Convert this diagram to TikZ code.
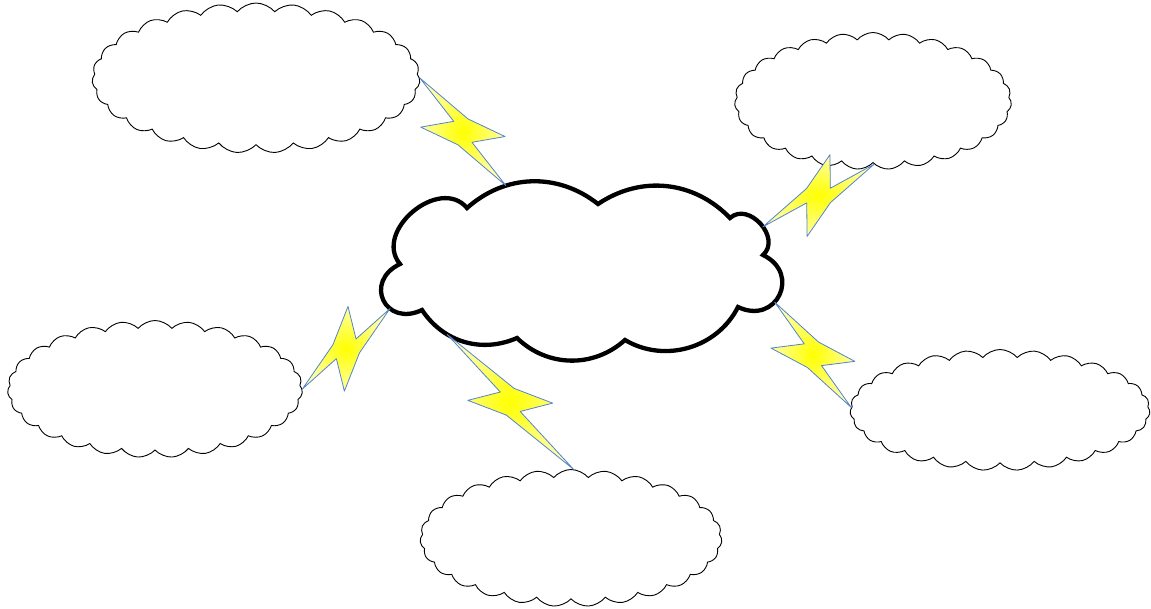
\documentclass[tikz,border=0pt]{standalone}
\usetikzlibrary{shapes.symbols,calc}

\definecolor{boltblue}{RGB}{84,130,206}

\tikzset{
  hubline/.style={draw, fill=white, line width=4.3pt},
  smallcloud/.style={cloud, draw, fill=white, line width=0.9pt, cloud puffs=27,
    cloud puff arc=100, cloud ignores aspect, inner sep=0pt},
  bolt/.style={draw=boltblue, line width=0.8pt, line join=round,
    inner color=yellow, outer color=yellow!35}
}

% lightning bolt between two points
\newcommand{\zap}[2]{%
  \path (#1) coordinate (zs) (#2) coordinate (ze) ($(zs)!0.5!(ze)$) coordinate (zm);
  \shadedraw[bolt] (zs)
    -- ($(zm)!7pt!(zs)!12pt!90:(ze)$)
    -- ($(zm)!30pt!(ze)!30pt!90:(ze)$)
    -- ($(zm)!13.9pt!(ze)!0.6pt!90:(ze)$)
    -- (ze)
    -- ($(zm)!7pt!(ze)!12pt!-90:(ze)$)
    -- ($(zm)!30pt!(zs)!30pt!-90:(ze)$)
    -- ($(zm)!13.9pt!(zs)!0.6pt!-90:(ze)$)
    -- cycle;
}

\begin{document}
\begin{tikzpicture}[x=1pt,y=-1pt]
  \useasboundingbox (0,0) rectangle (1151,609);

  % cusps of the big cloud
  \coordinate (k1) at (467,208);
  \coordinate (k2) at (598,204);
  \coordinate (k3) at (730,218);
  \coordinate (k4) at (763,255);
  \coordinate (k5) at (738,307);
  \coordinate (k6) at (625,340);
  \coordinate (k7) at (517,338);
  \coordinate (k8) at (422,310);
  \coordinate (k9) at (400,264);

  \draw[hubline] (k1) to[bend left=40] coordinate[pos=0.31] (hubA) (k2)
    to[bend left=40] (k3)
    to[bend left=90, looseness=1.3] coordinate[pos=0.55] (hubB) (k4)
    to[bend left=90, looseness=1.9] coordinate[pos=0.6] (hubC) (k5)
    to[bend left=47] (k6)
    to[bend left=43] (k7)
    to[bend left=40] coordinate[pos=0.68] (hubD) (k8)
    to[bend left=90, looseness=2.05] coordinate[pos=0.36] (hubE) (k9)
    to[bend left=90, looseness=1.25] (k1) -- cycle;

  \node[smallcloud, minimum width=328pt, minimum height=150pt] (tl) at (256,78) {};
  \node[smallcloud, minimum width=277pt, minimum height=137pt] (tr) at (873,101) {};
  \node[smallcloud, minimum width=295pt, minimum height=137pt] (lf) at (155,389) {};
  \node[smallcloud, minimum width=302pt, minimum height=137pt] (bt) at (571,538) {};
  \node[smallcloud, minimum width=300pt, minimum height=121pt] (rt) at (1000,410) {};

  \zap{tl.0}{hubA}
  \zap{hubB}{tr.-89.7}
  \zap{lf.0.9}{hubE}
  \zap{hubD}{bt.88}
  \zap{hubC}{rt.179.7}
\end{tikzpicture}
\end{document}
